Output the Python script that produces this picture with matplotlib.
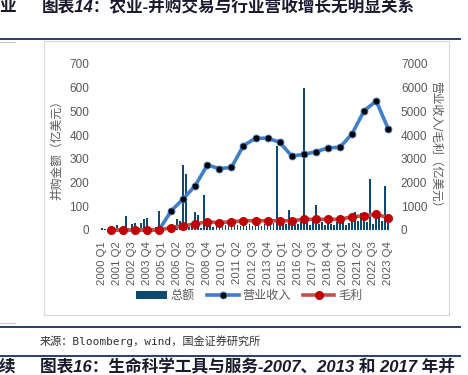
import matplotlib
matplotlib.use("Agg")
import matplotlib.pyplot as plt
from matplotlib.patches import Rectangle
from matplotlib.lines import Line2D

plt.rcParams['font.family'] = ['Liberation Sans', 'Noto Sans CJK SC']

# quarterly M&A deal value (亿美元), 2000 Q1 .. 2023 Q4
years = list(range(2000, 2024))
quarters = ["Q1", "Q2", "Q3", "Q4"]
deals = [8, 3, 5, 4,
         6, 22, 4, 10,
         60, 5, 25, 28,
         8, 30, 45, 50,
         5, 8, 12, 80,
         10, 6, 15, 8,
         12, 45, 40, 275,
         237, 12, 18, 75,
         65, 10, 148, 15,
         20, 12, 18, 15,
         12, 20, 15, 25,
         18, 22, 15, 20,
         15, 25, 18, 22,
         20, 15, 25, 30,
         20, 30, 354, 25,
         35, 25, 84, 30,
         20, 25, 35, 600,
         30, 20, 40, 105,
         25, 35, 20, 30,
         25, 20, 35, 30,
         40, 20, 30, 45,
         75, 40, 70, 45,
         35, 214, 25, 45,
         60, 40, 187, 30]
# annual revenue and gross profit (亿美元), plotted at Q4 of each year
revenue = [0, 0, 0, 0, 0, 800, 1310, 1870, 2740, 2590, 2640, 3560, 3870, 3870,
           3700, 3120, 3190, 3300, 3460, 3490, 4060, 5030, 5440, 4260]
profit = [0, 0, 0, 0, 0, 100, 180, 250, 350, 310, 350, 390, 390, 390,
          390, 390, 450, 450, 450, 450, 560, 600, 660, 520]

labels = [f"{y} {q}" for y in years for q in quarters]
xq = list(range(len(labels)))
xy = [4 * i + 3 for i in range(len(years))]

W, H = 468, 375
def fx(x):
    return x / W
def fy(y):
    return 1 - y / H

fig = plt.figure(figsize=(W / 100, H / 100), dpi=100)
navy = '#24406e'
grey = '#595959'
title_kw = dict(fontsize=12, color='#1a1a2e', style='italic', fontweight='bold',
                ha='left', va='center')

# page furniture
fig.text(fx(-1), fy(7), "业", **title_kw)
fig.text(fx(42), fy(7), "图表14：农业-并购交易与行业营收增长无明显关系", **title_kw)
fig.add_artist(Line2D([0, fx(460)], [fy(39), fy(39)], color=navy, lw=1.4))
fig.add_artist(Line2D([0, fx(15)], [fy(41.5), fy(41.5)], color='#c8c8c8', lw=0.8))
fig.add_artist(Rectangle((fx(44), fy(315)), (449 - 44) / W, (315 - 41) / H,
                         fill=False, edgecolor='#d6d6d6', lw=0.8))
fig.add_artist(Line2D([0, fx(15)], [fy(323), fy(323)], color='#c8c8c8', lw=0.8))
fig.add_artist(Line2D([0, fx(460)], [fy(327), fy(327)], color=navy, lw=1.4))
fig.text(fx(40), fy(341), "来源：Bloomberg，wind，国金证券研究所", fontsize=8, color='#333333',
         family=['DejaVu Sans Mono', 'Noto Sans CJK SC'], ha='left', va='center')
fig.add_artist(Line2D([0, fx(460)], [fy(356), fy(356)], color=navy, lw=1.4))
fig.text(fx(-1), fy(367), "续", **title_kw)
fig.text(fx(40), fy(367), "图表16：生命科学工具与服务-2007、2013 和 2017 年并", **title_kw)

# chart
ax = fig.add_axes([fx(100.2), fy(230), 289.6 / W, 166 / H])
bars = ax.bar(xq, deals, width=0.55, color='#0d4a72', label="总额")
ax.set_xlim(-0.5, len(labels) - 0.5)
ax.set_ylim(0, 700)
ax.set_yticks(range(0, 701, 100))
ax.set_xticks(xq[::5])
ax.set_xticklabels(labels[::5], rotation=90, fontsize=8.2, color=grey)
ax.tick_params(axis='x', length=0, pad=8)
ax.tick_params(axis='y', length=0, pad=8, labelsize=8.5, labelcolor=grey)
ax.set_ylabel("并购金额（亿美元）", fontsize=8.5, color=grey, labelpad=4)
for s in ax.spines.values():
    s.set_visible(False)

ax2 = ax.twinx()
l1, = ax2.plot(xy, revenue, color='#3f7fca', lw=2.6, marker='o', markersize=5,
               markerfacecolor='black', markeredgecolor='#3f7fca', markeredgewidth=0.6,
               clip_on=False, label="营业收入", solid_joinstyle='round')
l2, = ax2.plot(xy, profit, color='#c0504d', lw=2.6, marker='o', markersize=5.5,
               markerfacecolor='#c00000', markeredgecolor='#c00000',
               clip_on=False, label="毛利")
ax2.set_ylim(0, 7000)
ax2.set_yticks(range(0, 7001, 1000))
ax2.tick_params(axis='y', length=0, pad=8, labelsize=8.5, labelcolor=grey)
ax2.set_ylabel("营业收入/毛利（亿美元）", fontsize=8.5, color=grey, rotation=-90,
               labelpad=10)
for s in ax2.spines.values():
    s.set_visible(False)

fig.legend(handles=[bars, l1, l2], loc='center', bbox_to_anchor=(fx(249), fy(296)),
           ncol=3, frameon=False, fontsize=8.7, labelcolor=grey, handlelength=2.6,
           handletextpad=0.3, columnspacing=1.0, borderpad=0)

fig.savefig("out.png", dpi=100)
